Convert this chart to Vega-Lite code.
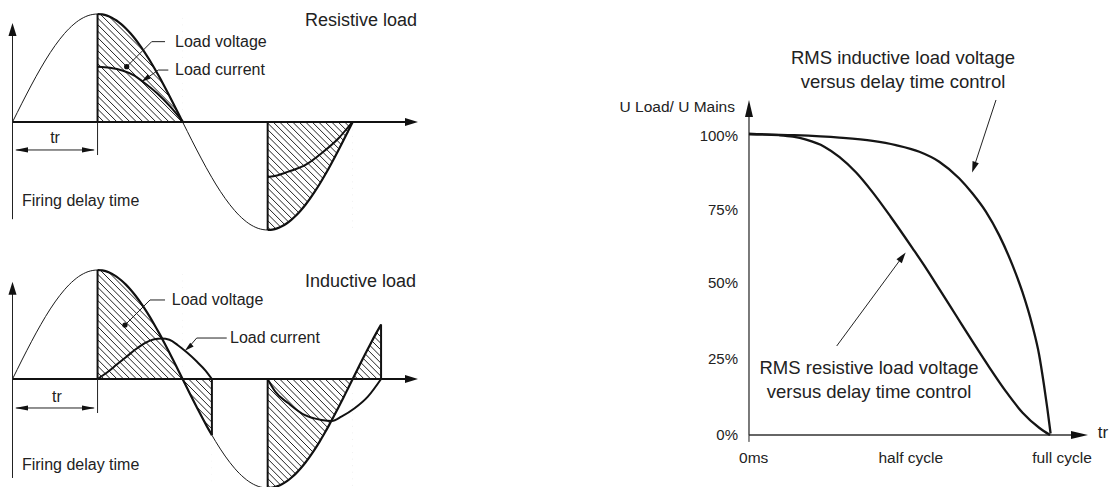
{
  "$schema": "https://vega.github.io/schema/vega-lite/v6.json",
  "padding": 0,
  "background": "white",
  "spacing": 170,
  "config": {"view": {"stroke": null}, "font": "Liberation Sans"},
  "datasets": {
    "sine": [
      {"x":0,"y":0},{"x":5,"y":0.087},{"x":10,"y":0.174},{"x":15,"y":0.259},{"x":20,"y":0.342},{"x":25,"y":0.423},{"x":30,"y":0.5},{"x":35,"y":0.574},{"x":40,"y":0.643},{"x":45,"y":0.707},{"x":50,"y":0.766},{"x":55,"y":0.819},{"x":60,"y":0.866},{"x":65,"y":0.906},{"x":70,"y":0.94},{"x":75,"y":0.966},{"x":80,"y":0.985},{"x":85,"y":0.996},{"x":90,"y":1},{"x":95,"y":0.996},{"x":100,"y":0.985},{"x":105,"y":0.966},{"x":110,"y":0.94},{"x":115,"y":0.906},{"x":120,"y":0.866},{"x":125,"y":0.819},{"x":130,"y":0.766},{"x":135,"y":0.707},{"x":140,"y":0.643},{"x":145,"y":0.574},{"x":150,"y":0.5},{"x":155,"y":0.423},{"x":160,"y":0.342},{"x":165,"y":0.259},{"x":170,"y":0.174},{"x":175,"y":0.087},{"x":180,"y":0},{"x":185,"y":-0.087},{"x":190,"y":-0.174},{"x":195,"y":-0.259},{"x":200,"y":-0.342},{"x":205,"y":-0.423},{"x":210,"y":-0.5},{"x":211,"y":-0.515},{"x":215,"y":-0.574},{"x":220,"y":-0.643},{"x":225,"y":-0.707},{"x":230,"y":-0.766},{"x":235,"y":-0.819},{"x":240,"y":-0.866},{"x":245,"y":-0.906},{"x":250,"y":-0.94},{"x":255,"y":-0.966},{"x":260,"y":-0.985},{"x":265,"y":-0.996},{"x":270,"y":-1},{"x":275,"y":-0.996},{"x":280,"y":-0.985},{"x":285,"y":-0.966},{"x":290,"y":-0.94},{"x":295,"y":-0.906},{"x":300,"y":-0.866},{"x":305,"y":-0.819},{"x":310,"y":-0.766},{"x":315,"y":-0.707},{"x":320,"y":-0.643},{"x":325,"y":-0.574},{"x":330,"y":-0.5},{"x":335,"y":-0.423},{"x":340,"y":-0.342},{"x":345,"y":-0.259},{"x":350,"y":-0.174},{"x":355,"y":-0.087},{"x":360,"y":0},{"x":365,"y":0.087},{"x":370,"y":0.174},{"x":375,"y":0.259},{"x":380,"y":0.342},{"x":385,"y":0.423},{"x":390,"y":0.5}
    ],
    "hatch": [
      {"x":-24.3,"y":1,"x2":204.3,"y2":-1},{"x":-17.42,"y":1,"x2":211.18,"y2":-1},{"x":-10.54,"y":1,"x2":218.06,"y2":-1},{"x":-3.66,"y":1,"x2":224.94,"y2":-1},{"x":3.22,"y":1,"x2":231.82,"y2":-1},{"x":10.1,"y":1,"x2":238.7,"y2":-1},{"x":16.98,"y":1,"x2":245.58,"y2":-1},{"x":23.86,"y":1,"x2":252.46,"y2":-1},{"x":30.74,"y":1,"x2":259.34,"y2":-1},{"x":37.62,"y":1,"x2":266.22,"y2":-1},{"x":44.5,"y":1,"x2":273.1,"y2":-1},{"x":51.38,"y":1,"x2":279.98,"y2":-1},{"x":58.26,"y":1,"x2":286.86,"y2":-1},{"x":65.14,"y":1,"x2":293.74,"y2":-1},{"x":72.02,"y":1,"x2":300.62,"y2":-1},{"x":78.9,"y":1,"x2":307.5,"y2":-1},{"x":85.78,"y":1,"x2":314.38,"y2":-1},{"x":92.66,"y":1,"x2":321.26,"y2":-1},{"x":99.54,"y":1,"x2":328.14,"y2":-1},{"x":106.42,"y":1,"x2":335.02,"y2":-1},{"x":113.3,"y":1,"x2":341.9,"y2":-1},{"x":120.18,"y":1,"x2":348.78,"y2":-1},{"x":127.06,"y":1,"x2":355.66,"y2":-1},{"x":133.94,"y":1,"x2":362.54,"y2":-1},{"x":140.82,"y":1,"x2":369.42,"y2":-1},{"x":147.7,"y":1,"x2":376.3,"y2":-1},{"x":154.58,"y":1,"x2":383.18,"y2":-1},{"x":161.46,"y":1,"x2":390.06,"y2":-1},{"x":168.34,"y":1,"x2":396.94,"y2":-1},{"x":175.22,"y":1,"x2":403.82,"y2":-1},{"x":182.1,"y":1,"x2":410.7,"y2":-1},{"x":188.98,"y":1,"x2":417.58,"y2":-1},{"x":195.86,"y":1,"x2":424.46,"y2":-1},{"x":202.74,"y":1,"x2":431.34,"y2":-1},{"x":209.62,"y":1,"x2":438.22,"y2":-1},{"x":216.5,"y":1,"x2":445.1,"y2":-1},{"x":223.38,"y":1,"x2":451.98,"y2":-1},{"x":230.26,"y":1,"x2":458.86,"y2":-1},{"x":237.14,"y":1,"x2":465.74,"y2":-1},{"x":244.02,"y":1,"x2":472.62,"y2":-1},{"x":250.9,"y":1,"x2":479.5,"y2":-1},{"x":257.78,"y":1,"x2":486.38,"y2":-1},{"x":264.66,"y":1,"x2":493.26,"y2":-1},{"x":271.54,"y":1,"x2":500.14,"y2":-1},{"x":278.42,"y":1,"x2":507.02,"y2":-1},{"x":285.3,"y":1,"x2":513.9,"y2":-1},{"x":292.18,"y":1,"x2":520.78,"y2":-1},{"x":299.06,"y":1,"x2":527.66,"y2":-1},{"x":305.94,"y":1,"x2":534.54,"y2":-1},{"x":312.82,"y":1,"x2":541.42,"y2":-1},{"x":319.7,"y":1,"x2":548.3,"y2":-1},{"x":326.58,"y":1,"x2":555.18,"y2":-1},{"x":333.46,"y":1,"x2":562.06,"y2":-1},{"x":340.34,"y":1,"x2":568.94,"y2":-1}
    ],
    "maskTop": [
      {"x":-14,"x2":90,"y":-1.2,"y2":1.2},
      {"x":89.5,"x2":270,"y":-1.2,"y2":0},
      {"x":179.5,"x2":440,"y":0,"y2":1.2},
      {"x":359.5,"x2":440,"y":-1.2,"y2":0}
    ],
    "maskBot": [
      {"x":-14,"x2":90,"y":-1.2,"y2":1.3},
      {"x":89.5,"x2":180.5,"y":-1.2,"y2":0},
      {"x":179.5,"x2":360.5,"y":0,"y2":1.3},
      {"x":210.5,"x2":270,"y":-1.2,"y2":0},
      {"x":359.5,"x2":390,"y":-1.2,"y2":0},
      {"x":389.5,"x2":440,"y":-1.2,"y2":1.3}
    ],
    "curTop": [
      {"seg":"a","x":90,"y":0.512},{"seg":"a","x":103,"y":0.503},{"seg":"a","x":117,"y":0.475},{"seg":"a","x":128,"y":0.435},{"seg":"a","x":138,"y":0.373},{"seg":"a","x":153,"y":0.266},{"seg":"a","x":167,"y":0.142},{"seg":"a","x":180.5,"y":0},
      {"seg":"b","x":270,"y":-0.51},{"seg":"b","x":280,"y":-0.495},{"seg":"b","x":292,"y":-0.46},{"seg":"b","x":310,"y":-0.398},{"seg":"b","x":327,"y":-0.29},{"seg":"b","x":345,"y":-0.151},{"seg":"b","x":359.5,"y":0}
    ],
    "curBot": [
      {"seg":"a","x":90,"y":0},{"seg":"a","x":100,"y":0.06},{"seg":"a","x":110,"y":0.13},{"seg":"a","x":120,"y":0.2},{"seg":"a","x":130,"y":0.27},{"seg":"a","x":140,"y":0.33},{"seg":"a","x":150,"y":0.365},{"seg":"a","x":158,"y":0.372},{"seg":"a","x":166,"y":0.36},{"seg":"a","x":175,"y":0.31},{"seg":"a","x":185,"y":0.24},{"seg":"a","x":195,"y":0.16},{"seg":"a","x":204,"y":0.08},{"seg":"a","x":211,"y":0},
      {"seg":"b","x":270,"y":0},{"seg":"b","x":278,"y":-0.116},{"seg":"b","x":292,"y":-0.223},{"seg":"b","x":309,"y":-0.33},{"seg":"b","x":327,"y":-0.376},{"seg":"b","x":338,"y":-0.385},{"seg":"b","x":348,"y":-0.346},{"seg":"b","x":362,"y":-0.269},{"seg":"b","x":376,"y":-0.162},{"seg":"b","x":390,"y":0}
    ],
    "rulesTop": [
      {"part":"xaxis","x":0,"y":0,"x2":418,"y2":0},
      {"part":"yaxis","x":0,"y":-0.9,"x2":0,"y2":0.86},
      {"part":"firing","x":90,"y":0,"x2":90,"y2":1},
      {"part":"firing","x":270,"y":0,"x2":270,"y2":-1},
      {"part":"dim","x":90,"y":0,"x2":90,"y2":-0.306},
      {"part":"dim","x":4,"y":-0.259,"x2":86,"y2":-0.259},
      {"part":"leader","x":120.8,"y":0.512,"x2":147.3,"y2":0.744},
      {"part":"leader","x":147.3,"y":0.744,"x2":161.4,"y2":0.744},
      {"part":"leader","x":164.9,"y":0.481,"x2":154.3,"y2":0.481},
      {"part":"leader","x":154.3,"y":0.481,"x2":140.6,"y2":0.397}
    ],
    "headsTop": [
      {"part":"axis","x":0,"y":0.857,"ang":270},
      {"part":"axis","x":422.2,"y":0,"ang":0},
      {"part":"dim","x":9.5,"y":-0.259,"ang":180},
      {"part":"dim","x":80.4,"y":-0.259,"ang":0},
      {"part":"leader","x":140.6,"y":0.397,"ang":144.8},
      {"part":"dot","x":120.8,"y":0.512,"ang":0}
    ],
    "textTop": [
      {"part":"title","x":309.5,"y":0.935,"label":"Resistive load"},
      {"part":"label","x":172,"y":0.744,"label":"Load voltage"},
      {"part":"label","x":172,"y":0.481,"label":"Load current"},
      {"part":"label","x":10,"y":-0.73,"label":"Firing delay time"},
      {"part":"tr","x":45,"y":-0.148,"label":"tr"}
    ],
    "rulesBot": [
      {"part":"xaxis","x":0,"y":0,"x2":418,"y2":0},
      {"part":"yaxis","x":0,"y":-0.908,"x2":0,"y2":0.83},
      {"part":"firing","x":90,"y":0,"x2":90,"y2":1},
      {"part":"firing","x":211,"y":-0.515,"x2":211,"y2":0},
      {"part":"firing","x":270,"y":0,"x2":270,"y2":-1},
      {"part":"firing","x":390,"y":0.5,"x2":390,"y2":0},
      {"part":"dim","x":90,"y":0,"x2":90,"y2":-0.312},
      {"part":"dim","x":4,"y":-0.266,"x2":86,"y2":-0.266},
      {"part":"leader","x":119,"y":0.495,"x2":145.5,"y2":0.725},
      {"part":"leader","x":145.5,"y":0.725,"x2":161.4,"y2":0.725},
      {"part":"leader","x":226.7,"y":0.376,"x2":194.9,"y2":0.376},
      {"part":"leader","x":194.9,"y":0.376,"x2":186.1,"y2":0.287}
    ],
    "headsBot": [
      {"part":"axis","x":0,"y":0.833,"ang":270},
      {"part":"axis","x":422.2,"y":0,"ang":0},
      {"part":"dim","x":9.5,"y":-0.266,"ang":180},
      {"part":"dim","x":80.4,"y":-0.266,"ang":0},
      {"part":"leader","x":186.1,"y":0.287,"ang":138.6},
      {"part":"dot","x":119,"y":0.495,"ang":0}
    ],
    "textBot": [
      {"part":"title","x":309.5,"y":0.893,"label":"Inductive load"},
      {"part":"label","x":168.5,"y":0.725,"label":"Load voltage"},
      {"part":"label","x":230.2,"y":0.376,"label":"Load current"},
      {"part":"label","x":10,"y":-0.789,"label":"Firing delay time"},
      {"part":"tr","x":47,"y":-0.165,"label":"tr"}
    ],
    "rms": [
      {"curve":"resistive","x":0,"y":100},{"curve":"resistive","x":0.1,"y":99.6},{"curve":"resistive","x":0.146,"y":99.1},{"curve":"resistive","x":0.19,"y":98.1},{"curve":"resistive","x":0.25,"y":95.8},{"curve":"resistive","x":0.3,"y":92.4},{"curve":"resistive","x":0.356,"y":87.2},{"curve":"resistive","x":0.411,"y":80.6},{"curve":"resistive","x":0.47,"y":72.6},{"curve":"resistive","x":0.543,"y":62.1},{"curve":"resistive","x":0.589,"y":55.3},{"curve":"resistive","x":0.633,"y":48.4},{"curve":"resistive","x":0.688,"y":39.7},{"curve":"resistive","x":0.743,"y":31},{"curve":"resistive","x":0.799,"y":22.4},{"curve":"resistive","x":0.854,"y":14.4},{"curve":"resistive","x":0.909,"y":7.4},{"curve":"resistive","x":0.964,"y":2.4},{"curve":"resistive","x":1.0,"y":0},
      {"curve":"inductive","x":0,"y":100},{"curve":"inductive","x":0.15,"y":99.6},{"curve":"inductive","x":0.3,"y":98.8},{"curve":"inductive","x":0.411,"y":97.7},{"curve":"inductive","x":0.488,"y":96.3},{"curve":"inductive","x":0.566,"y":94.1},{"curve":"inductive","x":0.632,"y":90.8},{"curve":"inductive","x":0.698,"y":85.3},{"curve":"inductive","x":0.742,"y":80.3},{"curve":"inductive","x":0.787,"y":74.2},{"curve":"inductive","x":0.831,"y":66.4},{"curve":"inductive","x":0.875,"y":56.5},{"curve":"inductive","x":0.908,"y":47.6},{"curve":"inductive","x":0.941,"y":36.5},{"curve":"inductive","x":0.964,"y":26.6},{"curve":"inductive","x":0.98,"y":16.6},{"curve":"inductive","x":0.991,"y":8.9},{"curve":"inductive","x":1.002,"y":0.5}
    ],
    "rRules": [
      {"part":"axis","x":0,"y":0,"x2":0,"y2":108.5},
      {"part":"axis","x":0,"y":0,"x2":1.098,"y2":0},
      {"part":"tick","x":0,"y":0,"x2":0,"y2":-2.3},
      {"part":"arrow","x":0.8206,"y":111.3,"x2":0.7472,"y2":88.94},
      {"part":"arrow","x":0.2914,"y":29.57,"x2":0.5097,"y2":59.2}
    ],
    "rHeads": [
      {"part":"axis","x":0,"y":108.47,"ang":270},
      {"part":"axis","x":1.098,"y":0,"ang":0},
      {"part":"arrow","x":0.7472,"y":88.94,"ang":108.9},
      {"part":"arrow","x":0.5097,"y":59.2,"ang":306.4}
    ],
    "rText": [
      {"part":"ytick","x":-0.0365,"y":99.4,"label":"100%"},
      {"part":"ytick","x":-0.0365,"y":74.8,"label":"75%"},
      {"part":"ytick","x":-0.0365,"y":50.5,"label":"50%"},
      {"part":"ytick","x":-0.0365,"y":25.3,"label":"25%"},
      {"part":"ytick","x":-0.0365,"y":0,"label":"0%"},
      {"part":"ylabel","x":-0.0465,"y":109,"label":"U Load/ U Mains"},
      {"part":"xtick","x":0.0156,"y":-7.64,"label":"0ms"},
      {"part":"xtick","x":0.5375,"y":-7.64,"label":"half cycle"},
      {"part":"xtick","x":1.04,"y":-7.64,"label":"full cycle"},
      {"part":"tr","x":1.159,"y":0.66,"label":"tr"},
      {"part":"note","x":0.5116,"y":125.25,"label":"RMS inductive load voltage"},
      {"part":"note","x":0.5116,"y":117.3,"label":"versus delay time control"},
      {"part":"note","x":0.3987,"y":22.26,"label":"RMS resistive load voltage"},
      {"part":"note","x":0.3987,"y":14.29,"label":"versus delay time control"}
    ]
  },
  "hconcat": [
    {
      "spacing": 0,
      "vconcat": [
        {
          "width": 420,
          "height": 245,
          "encoding": {
            "x": {"field": "x", "type": "quantitative", "scale": {"domain": [-13.23, 431.2]}, "axis": null},
            "y": {"field": "y", "type": "quantitative", "scale": {"domain": [-1.1389, 1.1296]}, "axis": null}
          },
          "layer": [
            {"data": {"name": "hatch"}, "mark": {"type": "rule", "clip": true, "color": "#222222", "strokeWidth": 1},
             "encoding": {"x2": {"field": "x2"}, "y2": {"field": "y2"}}},
            {"data": {"name": "maskTop"}, "mark": {"type": "rect", "color": "white", "clip": true, "strokeWidth": 0},
             "encoding": {"x2": {"field": "x2"}, "y2": {"field": "y2"}}},
            {"data": {"name": "sine"}, "transform": [{"filter": {"field": "x", "range": [90, 180]}}], "mark": {"type": "area", "color": "white", "interpolate": "monotone", "clip": true},
             "encoding": {"y2": {"datum": 1.3}}},
            {"data": {"name": "sine"}, "transform": [{"filter": {"field": "x", "range": [270, 360]}}], "mark": {"type": "area", "color": "white", "interpolate": "monotone", "clip": true},
             "encoding": {"y2": {"datum": -1.3}}},
            {"data": {"name": "sine"}, "transform": [{"filter": {"field": "x", "lte": 360}}], "mark": {"type": "line", "color": "#1a1a1a", "strokeWidth": 1, "interpolate": "monotone", "clip": true}},
            {"data": {"name": "curTop"}, "mark": {"type": "line", "color": "#111111", "strokeWidth": 2, "interpolate": "monotone", "clip": true},
             "encoding": {"detail": {"field": "seg"}}},
            {"data": {"name": "sine"}, "transform": [{"filter": {"field": "x", "range": [90, 180]}}], "mark": {"type": "line", "color": "#111111", "strokeWidth": 2.2, "interpolate": "monotone", "clip": true}},
            {"data": {"name": "sine"}, "transform": [{"filter": {"field": "x", "range": [270, 360]}}], "mark": {"type": "line", "color": "#111111", "strokeWidth": 2.2, "interpolate": "monotone", "clip": true}},
            {"data": {"name": "rulesTop"}, "transform": [{"filter": {"field": "part", "oneOf": ["xaxis", "firing"]}}], "mark": {"type": "rule", "color": "#111111", "strokeWidth": 2},
             "encoding": {"x2": {"field": "x2"}, "y2": {"field": "y2"}}},
            {"data": {"name": "rulesTop"}, "transform": [{"filter": {"field": "part", "oneOf": ["yaxis", "dim", "leader"]}}], "mark": {"type": "rule", "color": "#222222", "strokeWidth": 1},
             "encoding": {"x2": {"field": "x2"}, "y2": {"field": "y2"}}},
            {"data": {"name": "headsTop"}, "transform": [{"filter": {"field": "part", "equal": "axis"}}], "mark": {"type": "point", "shape": "M1,0L-1,-0.62L-1,0.62Z", "size": 169, "filled": true, "opacity": 1, "color": "#111111", "strokeWidth": 0},
             "encoding": {"angle": {"field": "ang", "type": "quantitative", "scale": null}}},
            {"data": {"name": "headsTop"}, "transform": [{"filter": {"field": "part", "equal": "dim"}}], "mark": {"type": "point", "shape": "M1,0L-1,-0.4L-1,0.4Z", "size": 169, "filled": true, "opacity": 1, "color": "#111111", "strokeWidth": 0},
             "encoding": {"angle": {"field": "ang", "type": "quantitative", "scale": null}}},
            {"data": {"name": "headsTop"}, "transform": [{"filter": {"field": "part", "equal": "leader"}}], "mark": {"type": "point", "shape": "M1,0L-1,-0.55L-1,0.55Z", "size": 90, "filled": true, "opacity": 1, "color": "#111111", "strokeWidth": 0},
             "encoding": {"angle": {"field": "ang", "type": "quantitative", "scale": null}}},
            {"data": {"name": "headsTop"}, "transform": [{"filter": {"field": "part", "equal": "dot"}}], "mark": {"type": "point", "shape": "circle", "size": 28, "filled": true, "opacity": 1, "color": "#111111", "strokeWidth": 0}},
            {"data": {"name": "textTop"}, "transform": [{"filter": {"field": "part", "equal": "title"}}], "mark": {"type": "text", "align": "left", "baseline": "middle", "fontSize": 18, "font": "Liberation Sans", "color": "#222222"},
             "encoding": {"text": {"field": "label"}}},
            {"data": {"name": "textTop"}, "transform": [{"filter": {"field": "part", "equal": "label"}}], "mark": {"type": "text", "align": "left", "baseline": "middle", "fontSize": 16, "font": "Liberation Sans", "color": "#222222"},
             "encoding": {"text": {"field": "label"}}},
            {"data": {"name": "textTop"}, "transform": [{"filter": {"field": "part", "equal": "tr"}}], "mark": {"type": "text", "align": "center", "baseline": "middle", "fontSize": 16, "font": "Liberation Sans", "color": "#222222"},
             "encoding": {"text": {"field": "label"}}}
          ]
        },
        {
          "width": 420,
          "height": 242,
          "encoding": {
            "x": {"field": "x", "type": "quantitative", "scale": {"domain": [-13.23, 431.2]}, "axis": null},
            "y": {"field": "y", "type": "quantitative", "scale": {"domain": [-0.9908, 1.2294]}, "axis": null}
          },
          "layer": [
            {"data": {"name": "hatch"}, "mark": {"type": "rule", "clip": true, "color": "#222222", "strokeWidth": 1},
             "encoding": {"x2": {"field": "x2"}, "y2": {"field": "y2"}}},
            {"data": {"name": "maskBot"}, "mark": {"type": "rect", "color": "white", "clip": true, "strokeWidth": 0},
             "encoding": {"x2": {"field": "x2"}, "y2": {"field": "y2"}}},
            {"data": {"name": "sine"}, "transform": [{"filter": {"field": "x", "range": [90, 180]}}], "mark": {"type": "area", "color": "white", "interpolate": "monotone", "clip": true},
             "encoding": {"y2": {"datum": 1.3}}},
            {"data": {"name": "sine"}, "transform": [{"filter": {"field": "x", "range": [180, 211]}}], "mark": {"type": "area", "color": "white", "interpolate": "monotone", "clip": true},
             "encoding": {"y2": {"datum": -1.3}}},
            {"data": {"name": "sine"}, "transform": [{"filter": {"field": "x", "range": [270, 360]}}], "mark": {"type": "area", "color": "white", "interpolate": "monotone", "clip": true},
             "encoding": {"y2": {"datum": -1.3}}},
            {"data": {"name": "sine"}, "transform": [{"filter": {"field": "x", "range": [360, 390]}}], "mark": {"type": "area", "color": "white", "interpolate": "monotone", "clip": true},
             "encoding": {"y2": {"datum": 1.3}}},
            {"data": {"name": "sine"}, "mark": {"type": "line", "color": "#1a1a1a", "strokeWidth": 1, "interpolate": "monotone", "clip": true}},
            {"data": {"name": "curBot"}, "mark": {"type": "line", "color": "#111111", "strokeWidth": 2, "interpolate": "monotone", "clip": true},
             "encoding": {"detail": {"field": "seg"}}},
            {"data": {"name": "sine"}, "transform": [{"filter": {"field": "x", "range": [90, 211]}}], "mark": {"type": "line", "color": "#111111", "strokeWidth": 2.2, "interpolate": "monotone", "clip": true}},
            {"data": {"name": "sine"}, "transform": [{"filter": {"field": "x", "range": [270, 390]}}], "mark": {"type": "line", "color": "#111111", "strokeWidth": 2.2, "interpolate": "monotone", "clip": true}},
            {"data": {"name": "rulesBot"}, "transform": [{"filter": {"field": "part", "oneOf": ["xaxis", "firing"]}}], "mark": {"type": "rule", "color": "#111111", "strokeWidth": 2},
             "encoding": {"x2": {"field": "x2"}, "y2": {"field": "y2"}}},
            {"data": {"name": "rulesBot"}, "transform": [{"filter": {"field": "part", "oneOf": ["yaxis", "dim", "leader"]}}], "mark": {"type": "rule", "color": "#222222", "strokeWidth": 1},
             "encoding": {"x2": {"field": "x2"}, "y2": {"field": "y2"}}},
            {"data": {"name": "headsBot"}, "transform": [{"filter": {"field": "part", "equal": "axis"}}], "mark": {"type": "point", "shape": "M1,0L-1,-0.62L-1,0.62Z", "size": 169, "filled": true, "opacity": 1, "color": "#111111", "strokeWidth": 0},
             "encoding": {"angle": {"field": "ang", "type": "quantitative", "scale": null}}},
            {"data": {"name": "headsBot"}, "transform": [{"filter": {"field": "part", "equal": "dim"}}], "mark": {"type": "point", "shape": "M1,0L-1,-0.4L-1,0.4Z", "size": 169, "filled": true, "opacity": 1, "color": "#111111", "strokeWidth": 0},
             "encoding": {"angle": {"field": "ang", "type": "quantitative", "scale": null}}},
            {"data": {"name": "headsBot"}, "transform": [{"filter": {"field": "part", "equal": "leader"}}], "mark": {"type": "point", "shape": "M1,0L-1,-0.55L-1,0.55Z", "size": 90, "filled": true, "opacity": 1, "color": "#111111", "strokeWidth": 0},
             "encoding": {"angle": {"field": "ang", "type": "quantitative", "scale": null}}},
            {"data": {"name": "headsBot"}, "transform": [{"filter": {"field": "part", "equal": "dot"}}], "mark": {"type": "point", "shape": "circle", "size": 28, "filled": true, "opacity": 1, "color": "#111111", "strokeWidth": 0}},
            {"data": {"name": "textBot"}, "transform": [{"filter": {"field": "part", "equal": "title"}}], "mark": {"type": "text", "align": "left", "baseline": "middle", "fontSize": 18, "font": "Liberation Sans", "color": "#222222"},
             "encoding": {"text": {"field": "label"}}},
            {"data": {"name": "textBot"}, "transform": [{"filter": {"field": "part", "equal": "label"}}], "mark": {"type": "text", "align": "left", "baseline": "middle", "fontSize": 16, "font": "Liberation Sans", "color": "#222222"},
             "encoding": {"text": {"field": "label"}}},
            {"data": {"name": "textBot"}, "transform": [{"filter": {"field": "part", "equal": "tr"}}], "mark": {"type": "text", "align": "center", "baseline": "middle", "fontSize": 16, "font": "Liberation Sans", "color": "#222222"},
             "encoding": {"text": {"field": "label"}}}
          ]
        }
      ]
    },
    {
      "width": 527,
      "height": 487,
      "encoding": {
        "x": {"field": "x", "type": "quantitative", "scale": {"domain": [-0.5282, 1.2226]}, "axis": null},
        "y": {"field": "y", "type": "quantitative", "scale": {"domain": [-17.28, 144.52]}, "axis": null}
      },
      "layer": [
        {"data": {"name": "rRules"}, "transform": [{"filter": {"field": "part", "equal": "axis"}}], "mark": {"type": "rule", "color": "#333333", "strokeWidth": 1.3},
         "encoding": {"x2": {"field": "x2"}, "y2": {"field": "y2"}}},
        {"data": {"name": "rRules"}, "transform": [{"filter": {"field": "part", "oneOf": ["tick", "arrow"]}}], "mark": {"type": "rule", "color": "#222222", "strokeWidth": 1},
         "encoding": {"x2": {"field": "x2"}, "y2": {"field": "y2"}}},
        {"data": {"name": "rms"}, "mark": {"type": "line", "color": "#151515", "strokeWidth": 2.3, "interpolate": "monotone"},
         "encoding": {"detail": {"field": "curve"}}},
        {"data": {"name": "rHeads"}, "transform": [{"filter": {"field": "part", "equal": "axis"}}], "mark": {"type": "point", "shape": "M1,0L-1,-0.47L-1,0.47Z", "size": 289, "filled": true, "opacity": 1, "color": "#111111", "strokeWidth": 0},
         "encoding": {"angle": {"field": "ang", "type": "quantitative", "scale": null}}},
        {"data": {"name": "rHeads"}, "transform": [{"filter": {"field": "part", "equal": "arrow"}}], "mark": {"type": "point", "shape": "M1,0L-1,-0.6L-1,0.6Z", "size": 121, "filled": true, "opacity": 1, "color": "#111111", "strokeWidth": 0},
         "encoding": {"angle": {"field": "ang", "type": "quantitative", "scale": null}}},
        {"data": {"name": "rText"}, "transform": [{"filter": {"field": "part", "equal": "ytick"}}], "mark": {"type": "text", "align": "right", "baseline": "middle", "fontSize": 15, "font": "Liberation Sans", "color": "#222222"},
         "encoding": {"text": {"field": "label"}}},
        {"data": {"name": "rText"}, "transform": [{"filter": {"field": "part", "equal": "ylabel"}}], "mark": {"type": "text", "align": "right", "baseline": "middle", "fontSize": 15.5, "font": "Liberation Sans", "color": "#222222"},
         "encoding": {"text": {"field": "label"}}},
        {"data": {"name": "rText"}, "transform": [{"filter": {"field": "part", "equal": "xtick"}}], "mark": {"type": "text", "align": "center", "baseline": "middle", "fontSize": 15.5, "font": "Liberation Sans", "color": "#222222"},
         "encoding": {"text": {"field": "label"}}},
        {"data": {"name": "rText"}, "transform": [{"filter": {"field": "part", "equal": "tr"}}], "mark": {"type": "text", "align": "left", "baseline": "middle", "fontSize": 17, "font": "Liberation Sans", "color": "#222222"},
         "encoding": {"text": {"field": "label"}}},
        {"data": {"name": "rText"}, "transform": [{"filter": {"field": "part", "equal": "note"}}], "mark": {"type": "text", "align": "center", "baseline": "middle", "fontSize": 18.5, "font": "Liberation Sans", "color": "#222222"},
         "encoding": {"text": {"field": "label"}}}
      ]
    }
  ]
}
